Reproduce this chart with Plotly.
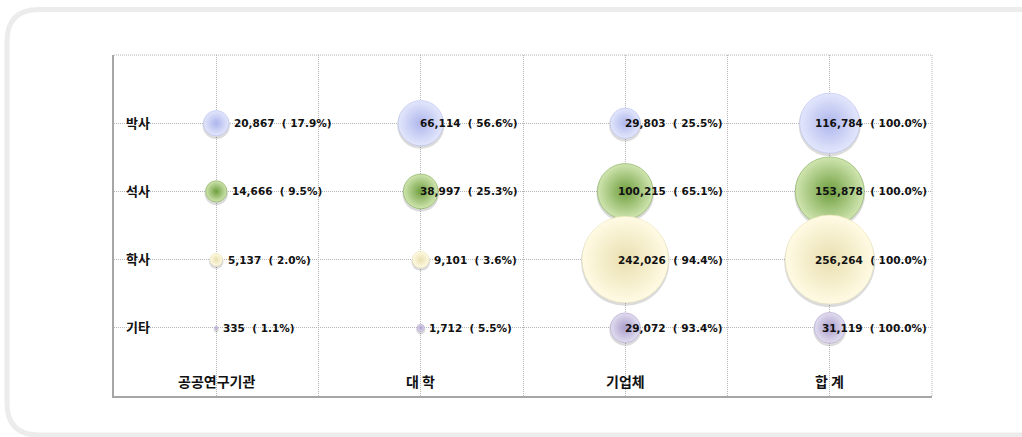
import math
import plotly.graph_objects as go

# ---- data -------------------------------------------------------------
institutions = ["공공연구기관", "대 학", "기업체", "합 계"]
degrees = ["박사", "석사", "학사", "기타"]

# researchers by degree (rows) for each institution type (columns)
phd = [20867, 66114, 29803, 116784]
masters = [14666, 38997, 100215, 153878]
bachelors = [5137, 9101, 242026, 256264]
others = [335, 1712, 29072, 31119]

phd_pct = [17.9, 56.6, 25.5, 100.0]
masters_pct = [9.5, 25.3, 65.1, 100.0]
bachelors_pct = [2.0, 3.6, 94.4, 100.0]
others_pct = [1.1, 5.5, 93.4, 100.0]

# ---- geometry / style ---------------------------------------------------
W, H = 1022, 437
ML, MR, MT, MB = 114, 90, 55, 41
PW, PH = W - ML - MR, H - MT - MB
X_UNITS, Y_UNITS = 8, 5
PX_PER_X = PW / X_UNITS
PX_PER_Y = PH / Y_UNITS

col_x = [1, 3, 5, 7]          # bubble column centres (x units)
row_y = [4, 3, 2, 1]          # 박사 .. 기타 (y units)
MAX_DIAM = 89

series = [
    (phd, phd_pct, "#e3e7fc", "#aeb6ec"),
    (masters, masters_pct, "#d0e5b0", "#6f9f3f"),
    (bachelors, bachelors_pct, "#fffbe4", "#e9dfb0"),
    (others, others_pct, "#e2ddf0", "#a99dca"),
]
vmax = max(max(s[0]) for s in series)

LABEL_SIZE = 10.5
LABEL_FONT = dict(family="DejaVu Sans", size=LABEL_SIZE, color="#111111")
KR_FONT = "Noto Sans CJK KR"
GRID = "#b4b4b4"

# rough advance widths of DejaVu Sans Bold (em)
CHAR_W = {",": 0.38, ".": 0.38, " ": 0.35, "(": 0.46, ")": 0.46, "%": 1.0}


def text_width(s):
    return LABEL_SIZE * sum(CHAR_W.get(c, 0.70) for c in s)


fig = go.Figure()
annotations = []

for (vals, pcts, c_in, c_out), y in zip(series, row_y):
    diam = [MAX_DIAM * math.sqrt(v / vmax) for v in vals]
    # soft drop shadow just below each bubble
    fig.add_trace(go.Scatter(
        x=col_x, y=[y - 2 / PX_PER_Y] * len(vals), mode="markers",
        marker=dict(size=[d + 2 for d in diam], color="rgba(0,0,0,0.14)",
                    opacity=1, line=dict(width=0)),
        hoverinfo="skip", showlegend=False,
    ))
    fig.add_trace(go.Scatter(
        x=col_x, y=[y] * len(vals), mode="markers",
        marker=dict(size=diam, color=c_in, opacity=1,
                    gradient=dict(type="radial", color=c_out),
                    line=dict(width=0.5, color=c_out)),
        hoverinfo="skip", showlegend=False,
    ))
    for cx, v, p, d in zip(col_x, vals, pcts, diam):
        plain = f"{v:,}  ( {p:.1f}%)"
        txt = f"<b>{plain}</b>"
        r = d / 2
        if r + 3 + text_width(plain) > PX_PER_X + 12:
            annotations.append(dict(x=cx + 1, y=y, text=txt, showarrow=False,
                                    xanchor="right", xshift=-3, font=LABEL_FONT))
        else:
            annotations.append(dict(x=cx, y=y, text=txt, showarrow=False,
                                    xanchor="left", xshift=r + 3, font=LABEL_FONT))

# row labels inside the plot area
for name, y in zip(degrees, row_y):
    annotations.append(dict(x=0.1, y=y, text=f"<b>{name}</b>", showarrow=False,
                            xanchor="left", yshift=1,
                            font=dict(family=KR_FONT, size=13, color="#111111")))

# institution labels along the bottom
for name, cx in zip(institutions, col_x):
    annotations.append(dict(x=cx, y=0.22, text=f"<b>{name}</b>", showarrow=False,
                            font=dict(family=KR_FONT, size=14, color="#111111")))


# rounded frame around the chart, running off the right edge (paper coordinates)
def px(xv):
    return (xv - ML) / PW


def py(yv):
    return (H - MB - yv) / PH


x0, y0, y1, R = 7, 9.5, 435, 32
path = (
    f"M {px(W)} {py(y0)} L {px(x0 + R)} {py(y0)} "
    f"Q {px(x0)} {py(y0)} {px(x0)} {py(y0 + R)} L {px(x0)} {py(y1 - R)} "
    f"Q {px(x0)} {py(y1)} {px(x0 + R)} {py(y1)} L {px(W)} {py(y1)}"
)

shapes = [
    dict(type="path", path=path, xref="paper", yref="paper",
         line=dict(color="#ececec", width=5), layer="below"),
    # dotted top and right edges of the plot frame
    dict(type="line", xref="paper", yref="paper", x0=0, x1=1, y0=1, y1=1,
         line=dict(color=GRID, width=1, dash="1px,1px"), layer="below"),
    dict(type="line", xref="paper", yref="paper", x0=1, x1=1, y0=0, y1=1,
         line=dict(color=GRID, width=1, dash="1px,1px"), layer="below"),
]

axis_common = dict(showticklabels=False, ticks="", showgrid=True,
                   gridcolor=GRID, griddash="1px,1px", gridwidth=1,
                   zeroline=False, showline=True, linecolor="#a6a6a6",
                   linewidth=2, fixedrange=True)

fig.update_layout(
    width=W, height=H,
    margin=dict(l=ML, r=MR, t=MT, b=MB),
    paper_bgcolor="white", plot_bgcolor="white",
    annotations=annotations,
    shapes=shapes,
    xaxis=dict(range=[0, X_UNITS], tickvals=list(range(X_UNITS + 1)), **axis_common),
    yaxis=dict(range=[0, Y_UNITS], tickvals=list(range(Y_UNITS + 1)), **axis_common),
)

fig.write_html("out.html", config={"displayModeBar": False})
